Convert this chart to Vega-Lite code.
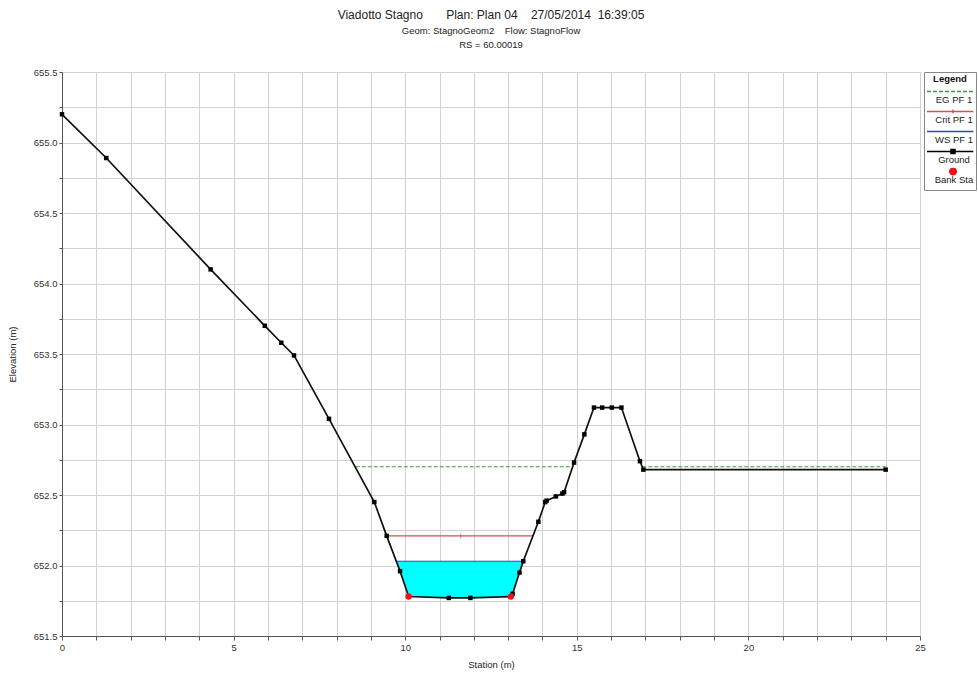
{
  "$schema": "https://vega.github.io/schema/vega-lite/v6.json",
  "width": 858,
  "height": 564,
  "autosize": {"type": "none"},
  "padding": {"left": 62, "top": 72, "right": 58, "bottom": 41},
  "background": "white",
  "title": {
    "text": "Viadotto Stagno\u00a0\u00a0\u00a0\u00a0\u00a0\u00a0\u00a0Plan: Plan 04\u00a0\u00a0\u00a0\u00a027/05/2014\u00a0\u00a016:39:05",
    "subtitle": ["Geom: StagnoGeom2\u00a0\u00a0\u00a0\u00a0Flow: StagnoFlow", "RS = 60.00019"],
    "anchor": "middle",
    "frame": "group",
    "font": "Liberation Sans",
    "fontSize": 12,
    "fontWeight": "normal",
    "color": "#222222",
    "subtitleFont": "Liberation Sans",
    "subtitleFontSize": 9.5,
    "subtitleColor": "#222222",
    "subtitlePadding": 4,
    "subtitleLineHeight": 14,
    "offset": 17
  },
  "config": {
    "font": "Liberation Sans",
    "view": {"stroke": "#c8c8c8", "strokeWidth": 1},
    "axis": {
      "gridColor": "#d2d2d2",
      "gridWidth": 1,
      "domainColor": "#555555",
      "tickColor": "#555555",
      "labelColor": "#333333",
      "labelFont": "Liberation Sans",
      "labelFontSize": 9.5,
      "titleFont": "Liberation Sans",
      "titleFontSize": 9.5,
      "titleFontWeight": "normal",
      "titleColor": "#222222",
      "labelFlush": false,
      "labelOverlap": false
    }
  },
  "datasets": {
    "lines": [
      {"series": "EG PF 1", "seg": "e1", "s": 8.56, "e": 652.70},
      {"series": "EG PF 1", "seg": "e1", "s": 14.85, "e": 652.70},
      {"series": "EG PF 1", "seg": "e2", "s": 16.91, "e": 652.70},
      {"series": "EG PF 1", "seg": "e2", "s": 24.0, "e": 652.70},
      {"series": "Crit PF 1", "seg": "c", "s": 9.46, "e": 652.21},
      {"series": "Crit PF 1", "seg": "c", "s": 13.73, "e": 652.21},
      {"series": "WS PF 1", "seg": "w", "s": 9.76, "e": 652.03},
      {"series": "WS PF 1", "seg": "w", "s": 13.44, "e": 652.03}
    ],
    "ground": [
      {"series": "Ground", "s": 0.0, "e": 655.20},
      {"series": "Ground", "s": 1.29, "e": 654.89},
      {"series": "Ground", "s": 4.33, "e": 654.10},
      {"series": "Ground", "s": 5.91, "e": 653.70},
      {"series": "Ground", "s": 6.39, "e": 653.58},
      {"series": "Ground", "s": 6.76, "e": 653.49},
      {"series": "Ground", "s": 7.78, "e": 653.04},
      {"series": "Ground", "s": 9.10, "e": 652.45},
      {"series": "Ground", "s": 9.46, "e": 652.21},
      {"series": "Ground", "s": 9.85, "e": 651.96},
      {"series": "Ground", "s": 10.10, "e": 651.78},
      {"series": "Ground", "s": 11.27, "e": 651.77},
      {"series": "Ground", "s": 11.90, "e": 651.77},
      {"series": "Ground", "s": 13.08, "e": 651.78},
      {"series": "Ground", "s": 13.13, "e": 651.80},
      {"series": "Ground", "s": 13.33, "e": 651.95},
      {"series": "Ground", "s": 13.44, "e": 652.03},
      {"series": "Ground", "s": 13.88, "e": 652.31},
      {"series": "Ground", "s": 14.08, "e": 652.45},
      {"series": "Ground", "s": 14.12, "e": 652.46},
      {"series": "Ground", "s": 14.39, "e": 652.49},
      {"series": "Ground", "s": 14.58, "e": 652.51},
      {"series": "Ground", "s": 14.63, "e": 652.52},
      {"series": "Ground", "s": 14.92, "e": 652.73},
      {"series": "Ground", "s": 15.22, "e": 652.93},
      {"series": "Ground", "s": 15.50, "e": 653.12},
      {"series": "Ground", "s": 15.74, "e": 653.12},
      {"series": "Ground", "s": 16.02, "e": 653.12},
      {"series": "Ground", "s": 16.30, "e": 653.12},
      {"series": "Ground", "s": 16.84, "e": 652.74},
      {"series": "Ground", "s": 16.94, "e": 652.68},
      {"series": "Ground", "s": 24.0, "e": 652.68}
    ],
    "water": [
      {"s": 9.76, "e": 652.03, "w": 652.03},
      {"s": 9.85, "e": 651.96, "w": 652.03},
      {"s": 10.10, "e": 651.78, "w": 652.03},
      {"s": 11.27, "e": 651.77, "w": 652.03},
      {"s": 11.90, "e": 651.77, "w": 652.03},
      {"s": 13.08, "e": 651.78, "w": 652.03},
      {"s": 13.13, "e": 651.80, "w": 652.03},
      {"s": 13.33, "e": 651.95, "w": 652.03},
      {"s": 13.44, "e": 652.03, "w": 652.03}
    ],
    "bank": [
      {"series": "Bank Sta", "s": 10.10, "e": 651.78},
      {"series": "Bank Sta", "s": 13.08, "e": 651.78}
    ],
    "crittick": [
      {"series": "Crit PF 1", "s": 11.62, "e": 652.21}
    ]
  },
  "encoding": {
    "x": {
      "field": "s",
      "type": "quantitative",
      "scale": {"domain": [0, 25], "nice": false, "zero": false},
      "axis": {
        "title": "Station (m)",
        "values": [0,1,2,3,4,5,6,7,8,9,10,11,12,13,14,15,16,17,18,19,20,21,22,23,24,25],
        "labelExpr": "datum.value % 5 === 0 ? format(datum.value, 'd') : ''",
        "tickSize": 4,
        "labelPadding": 2,
        "titlePadding": 8,
        "grid": true
      }
    },
    "y": {
      "field": "e",
      "type": "quantitative",
      "scale": {"domain": [651.5, 655.5], "nice": false, "zero": false},
      "axis": {
        "title": "Elevation (m)",
        "values": [651.5,651.75,652,652.25,652.5,652.75,653,653.25,653.5,653.75,654,654.25,654.5,654.75,655,655.25,655.5],
        "labelExpr": "(datum.value * 4) % 2 === 0 ? format(datum.value, '.1f') : ''",
        "tickSize": 3,
        "labelPadding": 2,
        "titlePadding": 16,
        "grid": true
      }
    }
  },
  "layer": [
    {
      "data": {"name": "water"},
      "mark": {"type": "area", "color": "#00ffff", "opacity": 1},
      "encoding": {"y2": {"field": "w"}}
    },
    {
      "data": {"name": "lines"},
      "mark": {"type": "line", "strokeWidth": 1.1},
      "encoding": {
        "color": {
          "field": "series",
          "type": "nominal",
          "scale": {
            "domain": ["EG PF 1", "Crit PF 1", "WS PF 1", "Ground", "Bank Sta"],
            "range": ["#3c9a3c", "#d05050", "#3048b8", "#000000", "#ee1111"]
          },
          "legend": {
            "title": "Legend",
            "orient": "none",
            "legendX": 862,
            "legendY": 0,
            "direction": "vertical",
            "fillColor": "white",
            "strokeColor": "#888888",
            "padding": 2,
            "titleFont": "Liberation Sans",
            "titleFontSize": 9.5,
            "titleFontWeight": "bold",
            "titleColor": "#111111",
            "titleAnchor": "middle",
            "titlePadding": 4,
            "labelFont": "Liberation Sans",
            "labelFontSize": 9.5,
            "labelColor": "#222222",
            "labelAlign": "center",
            "labelOffset": -26,
            "labelLimit": 0,
            "symbolSize": 2704,
            "symbolStrokeWidth": 1.3,
            "clipHeight": 20,
            "rowPadding": 0,
            "encode": {
              "symbols": {
                "update": {
                  "shape": {"signal": "datum.value === 'Bank Sta' ? 'circle' : datum.value === 'Ground' ? 'M-1,0H1M-0.08,-0.08H0.08V0.08H-0.08Z' : datum.value === 'Crit PF 1' ? 'M-1,0H1M0,-0.08V0.08' : 'M-1,0H1'"},
                  "size": {"signal": "datum.value === 'Bank Sta' ? 44 : 2704"},
                  "fill": {"signal": "datum.value === 'Ground' ? '#000000' : datum.value === 'Bank Sta' ? '#ee1111' : 'transparent'"},
                  "stroke": {"signal": "datum.value === 'EG PF 1' ? '#3c9a3c' : datum.value === 'Crit PF 1' ? '#d05050' : datum.value === 'WS PF 1' ? '#3a3aa0' : datum.value === 'Ground' ? '#000000' : '#ee1111'"},
                  "strokeDash": {"signal": "datum.value === 'EG PF 1' ? [4, 2] : [1, 0]"},
                  "strokeWidth": {"value": 1.3},
                  "opacity": {"value": 1},
                  "strokeOpacity": {"value": 1},
                  "y": {"value": 4}
                }
              },
              "labels": {
                "update": {"y": {"value": 12}, "baseline": {"value": "middle"}}
              }
            }
          }
        },
        "strokeDash": {
          "field": "series",
          "type": "nominal",
          "scale": {
            "domain": ["EG PF 1", "Crit PF 1", "WS PF 1"],
            "range": [[4, 2], [1, 0], [1, 0]]
          },
          "legend": null
        },
        "detail": {"field": "seg"}
      }
    },
    {
      "data": {"name": "crittick"},
      "mark": {"type": "tick", "orient": "vertical", "color": "#d05050", "size": 5, "thickness": 1}
    },
    {
      "data": {"name": "ground"},
      "mark": {"type": "line", "color": "#111111", "strokeWidth": 1.7}
    },
    {
      "data": {"name": "ground"},
      "mark": {"type": "point", "shape": "square", "filled": true, "color": "#000000", "size": 20, "opacity": 1}
    },
    {
      "data": {"name": "bank"},
      "mark": {"type": "point", "shape": "circle", "filled": true, "size": 40, "opacity": 1},
      "encoding": {
        "color": {
          "field": "series",
          "type": "nominal",
          "scale": {
            "domain": ["EG PF 1", "Crit PF 1", "WS PF 1", "Ground", "Bank Sta"],
            "range": ["#3c9a3c", "#d05050", "#3048b8", "#000000", "#ee1111"]
          },
          "legend": null
        }
      }
    }
  ]
}
